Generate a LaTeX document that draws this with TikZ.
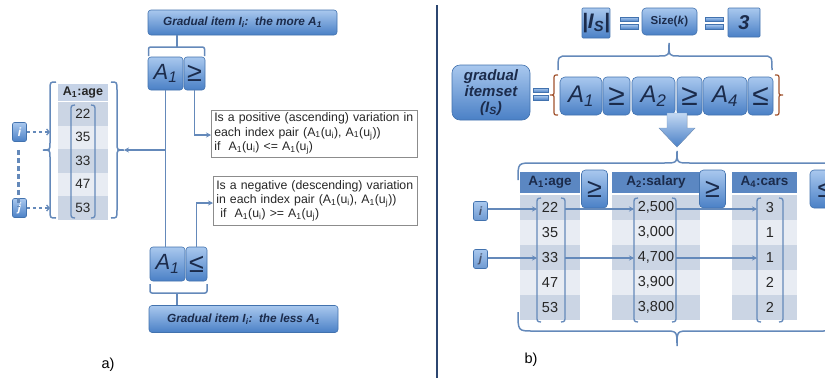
\documentclass[tikz,border=0pt]{standalone}
\usepackage{fontspec}
\setmainfont{Liberation Sans}
\usetikzlibrary{arrows.meta}
\definecolor{boxtop}{HTML}{A9C8EE}
\definecolor{boxbot}{HTML}{4A80C6}
\definecolor{boxedge}{HTML}{4272AE}
\definecolor{navy}{HTML}{1B2B4B}
\definecolor{linecol}{HTML}{6489BA}
\definecolor{rowD}{HTML}{CBD5E4}
\definecolor{rowL}{HTML}{E8ECF3}
\definecolor{hdrA}{HTML}{C6D3E7}
\definecolor{hdrB}{HTML}{5B87C2}
\definecolor{divcol}{HTML}{2C4670}
\definecolor{bracered}{HTML}{A0522D}
\begin{document}
\begin{tikzpicture}[x=1pt,y=-1pt,
  bluebox/.style={draw=boxedge, line width=0.6pt, top color=boxtop, bottom color=boxbot, rounded corners=3pt, inner sep=0pt, text=navy},
  conn/.style={draw=linecol, line width=1.6pt},
  arr/.style={conn, -{Stealth[length=5pt,width=5pt]}},
  dasharr/.style={draw=linecol, line width=1.3pt, dash pattern=on 3pt off 3pt, -{Straight Barb[length=2.5pt,width=6pt]}},
  paren/.style={draw=linecol, line width=1.3pt},
  bracecol/.style={draw=linecol, line width=1.5pt},
  cell/.style={inner sep=0pt, font=\fontsize{13.5}{13.5}\selectfont, text=black!85},
  cellb/.style={inner sep=0pt, font=\fontsize{14.5}{14.5}\selectfont, text=black!85},
  note/.style={draw=black!45, line width=0.6pt, align=left, inner xsep=3pt, inner ysep=1pt, font=\fontsize{12.3}{14.2}\selectfont, text=black!85, anchor=west},
  bigA/.style={font=\fontsize{22}{22}\selectfont\itshape},
  bigS/.style={font=\fontsize{27}{27}\selectfont},
  gtitle/.style={bluebox, minimum width=189, font=\fontsize{11.8}{11.8}\selectfont\bfseries\itshape},
  ilabel/.style={bluebox, rounded corners=2pt, minimum width=14, minimum height=19, font=\fontsize{12}{12}\selectfont\bfseries\itshape}
]
\useasboundingbox (0,0) rectangle (825,378);

%%%%%%%%%%%%%%%% panel a
\node[gtitle, minimum height=25] (gtop) at (242.5,22.5) {Gradual item I\textsubscript{i}:\ \ the more A\textsubscript{1}};
\node[bluebox, minimum width=35, minimum height=33, bigA] (a1t) at (165.5,73.5) {A\textsubscript{1}};
\node[bluebox, minimum width=21, minimum height=33, bigS] (get) at (194.5,73.5) {≥};
\draw[bracecol, rounded corners=2pt] (148.5,56) -- (148.5,47) -- (204.5,47) -- (204.5,56);
\draw[bracecol] (177,47) -- (gtop.south -| 177,0);

\node[bluebox, minimum width=35, minimum height=34, bigA] (a1b) at (167.5,264) {A\textsubscript{1}};
\node[bluebox, minimum width=21, minimum height=34, bigS] (leb) at (196.5,264) {≤};
\node[gtitle, minimum height=27] (gbot) at (243.5,319) {Gradual item I\textsubscript{i}:\ \ the less A\textsubscript{1}};
\draw[bracecol, rounded corners=2pt] (150,284) -- (150,293) -- (207,293) -- (207,284);
\draw[bracecol] (177,293) -- (gbot.north -| 177,0);

% notes
\node[note, text width=200pt, minimum height=47] (n1) at (211,133.5) {Is a positive (ascending) variation in\\each index pair (A\textsubscript{1}(u\textsubscript{i}), A\textsubscript{1}(u\textsubscript{j}))\\if\ \ A\textsubscript{1}(u\textsubscript{i}) <= A\textsubscript{1}(u\textsubscript{j})};
\node[note, text width=198pt, minimum height=49] (n2) at (213,201) {Is a negative (descending) variation\\in each index pair (A\textsubscript{1}(u\textsubscript{i}), A\textsubscript{1}(u\textsubscript{j}))\\\ if\ \ A\textsubscript{1}(u\textsubscript{i}) >= A\textsubscript{1}(u\textsubscript{j})};

% table a
\node[fill=hdrA, minimum width=50, minimum height=17, inner sep=0pt, font=\fontsize{12.5}{12.5}\selectfont\bfseries, text=black!85] (ha) at (83,92.5) {A\textsubscript{1}:age};
\foreach \v/\c [count=\k] in {22/rowD,35/rowL,33/rowD,47/rowL,53/rowD}
  \node[cell, fill=\c, minimum width=50, minimum height=23.5] (ra\k) at ({83},{102+23.5*(\k-0.5)}) {\v};
\draw[paren] (75,105) .. controls (71,105.5) .. (71,111) -- (71,212) .. controls (71,217.5) .. (75,218);
\draw[paren] (91,105) .. controls (95,105.5) .. (95,111) -- (95,212) .. controls (95,217.5) .. (91,218);
% braces a
\coordinate (lbt) at (43,150);
\coordinate (rbt) at (124,150);
\draw[bracecol] (56,82) .. controls (50,82) .. (50,90) -- (50,143) .. controls (50,150) .. (lbt) .. controls (50,150) .. (50,157) -- (50,210) .. controls (50,218) .. (56,218);
\draw[bracecol] (111,82) .. controls (117,82) .. (117,90) -- (117,143) .. controls (117,150) .. (rbt) .. controls (117,150) .. (117,157) -- (117,210) .. controls (117,218) .. (111,218);

% i j
\node[ilabel, text=white] (ia) at (19.5,132) {i};
\node[ilabel, text=white] (ja) at (19.5,208) {j};
\coordinate (iae) at (50,132);
\coordinate (jae) at (50,208);
\draw[dasharr] (ia) -- (iae);
\draw[dasharr] (ja) -- (jae);
\draw[draw=linecol, line width=2.2pt, dash pattern=on 5pt off 3pt] (ia.south) ++(-1,8) -- ([yshift=-8pt]ja.north -| 18.5,0);

% connectors a
\draw[conn] (a1t.south) -- (a1t.south |- a1b.north);
\draw[arr] (a1t.south |- rbt) -- (rbt);
\draw[arr] (get.south) |- (n1.west |- 0,135);
\draw[arr] (leb.north) |- (n2.west |- 0,203);

\node[font=\fontsize{14.5}{14.5}\selectfont] (la) at (108,365) {a)};

% divider
\draw[draw=divcol, line width=2.5pt] (437,5) -- (437,378);

%%%%%%%%%%%%%%%% panel b
\node[bluebox, rounded corners=1pt, minimum width=28, minimum height=30, font=\fontsize{21}{21}\selectfont\bfseries\itshape] (isz) at (596,23) {|I\textsubscript{S}|};
\node[bluebox, rounded corners=4pt, minimum width=55, minimum height=27, font=\fontsize{11.5}{11.5}\selectfont\bfseries] (size) at (669.5,21.5) {Size(\textit{k})};
\node[bluebox, rounded corners=1pt, minimum width=32, minimum height=29, font=\fontsize{20}{20}\selectfont\bfseries\itshape] (three) at (744,22.5) {3};
\foreach \xa/\xb in {620/638, 705/723}{
  \fill[top color=boxtop, bottom color=boxbot, draw=boxedge, line width=0.4pt] (\xa,17) rectangle (\xb,21.5);
  \fill[top color=boxtop, bottom color=boxbot, draw=boxedge, line width=0.4pt] (\xa,24.5) rectangle (\xb,29);
}
% brace under size
\coordinate (sbt) at (669,43);
\draw[bracecol] (558,70) .. controls (558,56) .. (568,56) -- (659,56) .. controls (669,56) .. (sbt) .. controls (669,56) .. (679,56) -- (762,56) .. controls (772,56) .. (772,70);

\node[bluebox, rounded corners=8pt, minimum width=78, minimum height=55, align=center, font=\fontsize{15}{16}\selectfont\bfseries\itshape] (gis) at (491,92.5) {gradual\\itemset\\(I\textsubscript{S})};
\fill[top color=boxtop, bottom color=boxbot, draw=boxedge, line width=0.4pt] (533,88) rectangle (548,92.5);
\fill[top color=boxtop, bottom color=boxbot, draw=boxedge, line width=0.4pt] (533,95.5) rectangle (548,100);
\draw[draw=bracered, line width=1.2pt] (558,75) .. controls (554,75) .. (554,80) -- (554,91) .. controls (554,95) .. (550,95) .. controls (554,95) .. (554,99) -- (554,110) .. controls (554,115) .. (558,115);
\draw[draw=bracered, line width=1.2pt] (775,75) .. controls (779,75) .. (779,80) -- (779,91) .. controls (779,95) .. (783,95) .. controls (779,95) .. (779,99) -- (779,110) .. controls (779,115) .. (775,115);

\node[bluebox, rounded corners=5pt, minimum width=42, minimum height=38, font=\fontsize{24}{24}\selectfont\itshape] (b1) at (581,96) {A\textsubscript{1}};
\node[bluebox, rounded corners=4pt, minimum width=27, minimum height=38, font=\fontsize{30}{30}\selectfont] (bg1) at (616.5,96) {≥};
\node[bluebox, rounded corners=5pt, minimum width=43, minimum height=38, font=\fontsize{24}{24}\selectfont\itshape] (b2) at (653.5,96) {A\textsubscript{2}};
\node[bluebox, rounded corners=4pt, minimum width=25, minimum height=38, font=\fontsize{30}{30}\selectfont] (bg2) at (689.5,96) {≥};
\node[bluebox, rounded corners=5pt, minimum width=44, minimum height=38, font=\fontsize{24}{24}\selectfont\itshape] (b4) at (725,96) {A\textsubscript{4}};
\node[bluebox, rounded corners=4pt, minimum width=25, minimum height=38, font=\fontsize{30}{30}\selectfont] (bl3) at (760.5,96) {≤};

% block arrow
\fill[top color=boxtop!70!white, bottom color=boxbot, draw=boxedge!70, line width=0.4pt] (667,113) -- (687,113) -- (687,128) -- (695,128) -- (677,147) -- (659,128) -- (667,128) -- cycle;

\begin{scope}
\clip (438,0) rectangle (825,378);
% big braces
\coordinate (tbt) at (677,151);
\draw[bracecol] (518,180) .. controls (518,163) .. (533,163) -- (664,163) .. controls (677,163) .. (tbt) .. controls (677,163) .. (690,163) -- (821,163) .. controls (836,163) .. (836,180);
\coordinate (bbt) at (677,346);
\draw[bracecol] (518,312) .. controls (518,331) .. (533,331) -- (664,331) .. controls (677,331) .. (bbt) .. controls (677,331) .. (690,331) -- (821,331) .. controls (836,331) .. (836,312);

% tables b
\foreach \col/\xc/\w/\hd in {1/550/60/{A\textsubscript{1}:age}, 2/656/88/{A\textsubscript{2}:salary}, 3/764.5/65/{A\textsubscript{4}:cars}}{
  \node[fill=hdrB, minimum width=\w, minimum height=21, inner sep=0pt, font=\fontsize{13.5}{13.5}\selectfont\bfseries, text=navy] (hb\col) at (\xc,182) {\hd};
}
\foreach \v/\c [count=\k] in {22/rowD,35/rowL,33/rowD,47/rowL,53/rowD}
  \node[cellb, fill=\c, minimum width=60, minimum height=25] (rb1\k) at ({550},{195+25*(\k-0.5)}) {\v};
\foreach \v/\c [count=\k] in {{2,500}/rowD,{3,000}/rowL,{4,700}/rowD,{3,900}/rowL,{3,800}/rowD}
  \node[cellb, fill=\c, minimum width=88, minimum height=25] (rb2\k) at ({656},{195+25*(\k-0.5)}) {\v};
\foreach \c [count=\k] in {rowD,rowL,rowD,rowL,rowD}
  \fill[\c] (732,{195+25*(\k-1)}) rectangle (797,{195+25*\k});
\foreach \v [count=\k] in {3,1,1,2,2}
  \node[cellb] (rb3\k) at ({770},{195+25*(\k-0.5)}) {\v};

\node[bluebox, rounded corners=4pt, minimum width=26, minimum height=38, bigS] (tg1) at (594.5,189) {≥};
\node[bluebox, rounded corners=4pt, minimum width=26, minimum height=38, bigS] (tg2) at (712.5,189) {≥};
\node[bluebox, rounded corners=4pt, minimum width=30, minimum height=38, bigS] (tl3) at (825,189) {≤};

% parens b
\foreach \xl/\xr in {537/565, 634/676, 757/783}{
  \draw[paren] (\xl+4,198) .. controls (\xl,198.5) .. (\xl,204) -- (\xl,316) .. controls (\xl,321.5) .. (\xl+4,322);
  \draw[paren] (\xr-4,198) .. controls (\xr,198.5) .. (\xr,204) -- (\xr,316) .. controls (\xr,321.5) .. (\xr-4,322);
}
\end{scope}

\node[ilabel, text=navy!80, bottom color=boxbot!80!white] (ib) at (480.5,211) {i};
\node[ilabel, text=navy!80, bottom color=boxbot!80!white] (jb) at (480.5,259) {j};
\coordinate (p1i) at (537,209); \coordinate (p1ir) at (565,209);
\coordinate (p2i) at (634,209); \coordinate (p2ir) at (676,209);
\coordinate (p3i) at (757,209);
\coordinate (p1j) at (537,258); \coordinate (p1jr) at (565,258);
\coordinate (p2j) at (634,258); \coordinate (p2jr) at (676,258);
\coordinate (p3j) at (757,258);
\draw[arr, line width=1.3pt] (ib.east |- p1i) -- (p1i);
\draw[arr, line width=1.3pt] (p1ir) -- (p2i);
\draw[arr, line width=1.3pt] (p2ir) -- (p3i);
\draw[arr, line width=1.3pt] (jb.east |- p1j) -- (p1j);
\draw[arr, line width=1.3pt] (p1jr) -- (p2j);
\draw[arr, line width=1.3pt] (p2jr) -- (p3j);

\node[font=\fontsize{14.5}{14.5}\selectfont] (lb) at (531,360) {b)};
\end{tikzpicture}
\end{document}
